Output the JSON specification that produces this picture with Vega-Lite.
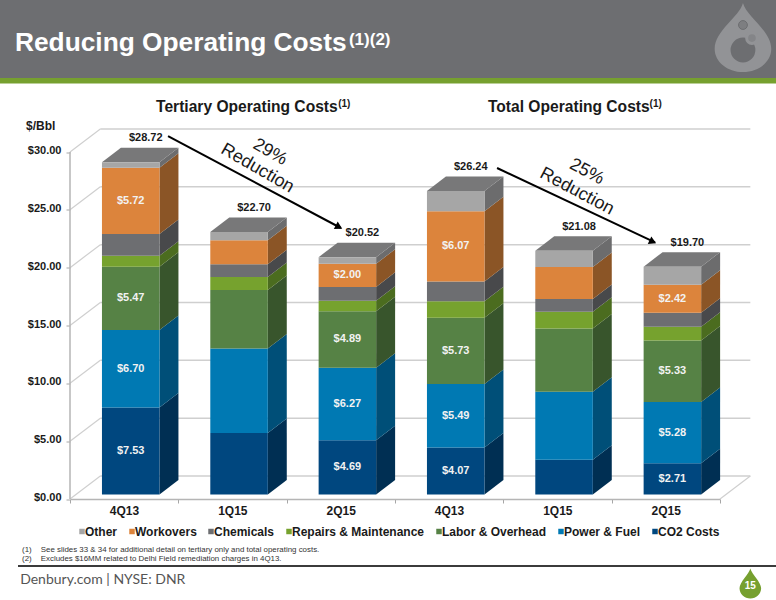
{
  "$schema": "https://vega.github.io/schema/vega-lite/v6.json",
  "width": 650,
  "height": 347,
  "autosize": {"type": "none"},
  "padding": {"left": 70, "top": 147.5, "right": 56, "bottom": 105.5},
  "background": "white",
  "config": {"view": {"stroke": null}},
  "datasets": {
    "costs": [
      {"chart": "Tertiary", "period": "4Q13", "component": "CO2 Costs", "value": 7.53, "labeled": true},
      {"chart": "Tertiary", "period": "4Q13", "component": "Power & Fuel", "value": 6.70, "labeled": true},
      {"chart": "Tertiary", "period": "4Q13", "component": "Labor & Overhead", "value": 5.47, "labeled": true},
      {"chart": "Tertiary", "period": "4Q13", "component": "Repairs & Maintenance", "value": 0.95},
      {"chart": "Tertiary", "period": "4Q13", "component": "Chemicals", "value": 1.87},
      {"chart": "Tertiary", "period": "4Q13", "component": "Workovers", "value": 5.72, "labeled": true},
      {"chart": "Tertiary", "period": "4Q13", "component": "Other", "value": 0.48},
      {"chart": "Tertiary", "period": "1Q15", "component": "CO2 Costs", "value": 5.31},
      {"chart": "Tertiary", "period": "1Q15", "component": "Power & Fuel", "value": 7.32},
      {"chart": "Tertiary", "period": "1Q15", "component": "Labor & Overhead", "value": 5.05},
      {"chart": "Tertiary", "period": "1Q15", "component": "Repairs & Maintenance", "value": 1.12},
      {"chart": "Tertiary", "period": "1Q15", "component": "Chemicals", "value": 1.10},
      {"chart": "Tertiary", "period": "1Q15", "component": "Workovers", "value": 2.08},
      {"chart": "Tertiary", "period": "1Q15", "component": "Other", "value": 0.72},
      {"chart": "Tertiary", "period": "2Q15", "component": "CO2 Costs", "value": 4.69, "labeled": true},
      {"chart": "Tertiary", "period": "2Q15", "component": "Power & Fuel", "value": 6.27, "labeled": true},
      {"chart": "Tertiary", "period": "2Q15", "component": "Labor & Overhead", "value": 4.89, "labeled": true},
      {"chart": "Tertiary", "period": "2Q15", "component": "Repairs & Maintenance", "value": 0.90},
      {"chart": "Tertiary", "period": "2Q15", "component": "Chemicals", "value": 1.20},
      {"chart": "Tertiary", "period": "2Q15", "component": "Workovers", "value": 2.00, "labeled": true},
      {"chart": "Tertiary", "period": "2Q15", "component": "Other", "value": 0.57},
      {"chart": "Total", "period": "4Q13", "component": "CO2 Costs", "value": 4.07, "labeled": true},
      {"chart": "Total", "period": "4Q13", "component": "Power & Fuel", "value": 5.49, "labeled": true},
      {"chart": "Total", "period": "4Q13", "component": "Labor & Overhead", "value": 5.73, "labeled": true},
      {"chart": "Total", "period": "4Q13", "component": "Repairs & Maintenance", "value": 1.42},
      {"chart": "Total", "period": "4Q13", "component": "Chemicals", "value": 1.71},
      {"chart": "Total", "period": "4Q13", "component": "Workovers", "value": 6.07, "labeled": true},
      {"chart": "Total", "period": "4Q13", "component": "Other", "value": 1.75},
      {"chart": "Total", "period": "1Q15", "component": "CO2 Costs", "value": 3.01},
      {"chart": "Total", "period": "1Q15", "component": "Power & Fuel", "value": 5.88},
      {"chart": "Total", "period": "1Q15", "component": "Labor & Overhead", "value": 5.47},
      {"chart": "Total", "period": "1Q15", "component": "Repairs & Maintenance", "value": 1.44},
      {"chart": "Total", "period": "1Q15", "component": "Chemicals", "value": 1.10},
      {"chart": "Total", "period": "1Q15", "component": "Workovers", "value": 2.77},
      {"chart": "Total", "period": "1Q15", "component": "Other", "value": 1.41},
      {"chart": "Total", "period": "2Q15", "component": "CO2 Costs", "value": 2.71, "labeled": true},
      {"chart": "Total", "period": "2Q15", "component": "Power & Fuel", "value": 5.28, "labeled": true},
      {"chart": "Total", "period": "2Q15", "component": "Labor & Overhead", "value": 5.33, "labeled": true},
      {"chart": "Total", "period": "2Q15", "component": "Repairs & Maintenance", "value": 1.19},
      {"chart": "Total", "period": "2Q15", "component": "Chemicals", "value": 1.21},
      {"chart": "Total", "period": "2Q15", "component": "Workovers", "value": 2.42, "labeled": true},
      {"chart": "Total", "period": "2Q15", "component": "Other", "value": 1.56}
    ],
    "totals": [
      {"chart": "Tertiary", "period": "4Q13", "total": 28.72},
      {"chart": "Tertiary", "period": "1Q15", "total": 22.70},
      {"chart": "Tertiary", "period": "2Q15", "total": 20.52},
      {"chart": "Total", "period": "4Q13", "total": 26.24},
      {"chart": "Total", "period": "1Q15", "total": 21.08},
      {"chart": "Total", "period": "2Q15", "total": 19.70}
    ],
    "ticks": [{"tick": 0}, {"tick": 5}, {"tick": 10}, {"tick": 15}, {"tick": 20}, {"tick": 25}, {"tick": 30}],
    "one": [{}]
  },
  "data": {"name": "costs"},
  "transform": [
    {"calculate": "indexof(['4Q13','1Q15','2Q15'],datum.period)+(datum.chart==='Total'?3:0)", "as": "slot"},
    {"calculate": "indexof(['CO2 Costs','Power & Fuel','Labor & Overhead','Repairs & Maintenance','Chemicals','Workovers','Other'],datum.component)", "as": "rank"},
    {"stack": "value", "groupby": ["slot"], "sort": [{"field": "rank", "order": "ascending"}], "as": ["low", "high"]},
    {"calculate": "datum.slot+0.295", "as": "left"},
    {"calculate": "datum.slot+0.826", "as": "right"},
    {"calculate": "datum.slot+0.5605", "as": "mid"},
    {"calculate": "(datum.low+datum.high)/2", "as": "center"}
  ],
  "resolve": {"scale": {"color": "independent"}, "axis": {"x": "independent", "y": "independent"}},
  "layer": [
    {
      "data": {"name": "ticks"},
      "transform": [{"calculate": "datum.tick+1.6", "as": "back"}],
      "mark": {"type": "rule", "color": "#cfcfcf", "strokeWidth": 1.5},
      "encoding": {
        "x": {
          "datum": 0.28,
          "type": "quantitative",
          "scale": {"domain": [0, 6], "nice": false, "zero": false},
          "axis": {
            "title": null,
            "values": [0, 1, 2, 3, 4, 5, 6],
            "offset": 4.5,
            "grid": false,
            "labelExpr": "['4Q13','1Q15','2Q15','4Q13','1Q15','2Q15',''][datum.value]",
            "labelOffset": 54,
            "labelFont": "Liberation Sans",
            "labelFontSize": 12,
            "labelFontWeight": "bold",
            "labelColor": "#1a1a1a",
            "labelPadding": 2,
            "labelOverlap": false,
            "labelFlush": false,
            "tickColor": "#a6a6a6",
            "tickSize": 4,
            "domainColor": "#b5b5b5",
            "domainWidth": 1.5
          }
        },
        "x2": {"datum": 6.28},
        "y": {
          "field": "back",
          "type": "quantitative",
          "scale": {"domain": [0, 30], "nice": false, "zero": false},
          "axis": {
            "title": null,
            "values": [0, 5, 10, 15, 20, 25, 30],
            "format": "$.2f",
            "domain": false,
            "grid": false,
            "tickOffset": 4.5,
            "labelOffset": -1.5,
            "labelFont": "Liberation Sans",
            "labelFontSize": 11,
            "labelFontWeight": "bold",
            "labelColor": "#1a1a1a",
            "labelPadding": 5,
            "labelOverlap": false,
            "labelFlush": false,
            "tickColor": "#a6a6a6",
            "tickSize": 4
          }
        }
      }
    },
    {
      "data": {"name": "ticks"},
      "transform": [
        {"calculate": "datum.tick-0.39", "as": "front"},
        {"calculate": "datum.tick+1.6", "as": "back"}
      ],
      "mark": {"type": "rule", "color": "#cfcfcf", "strokeWidth": 1.2},
      "encoding": {
        "x": {"datum": 0, "type": "quantitative", "axis": null},
        "x2": {"datum": 0.28},
        "y": {"field": "front", "type": "quantitative", "axis": null},
        "y2": {"field": "back"}
      }
    },
    {
      "data": {"name": "one"},
      "mark": {"type": "rule", "color": "#cfcfcf", "strokeWidth": 1.2},
      "encoding": {
        "x": {"datum": 6, "type": "quantitative", "axis": null},
        "x2": {"datum": 6.28},
        "y": {"datum": -0.39, "type": "quantitative", "axis": null},
        "y2": {"datum": 1.6}
      }
    },
    {
      "data": {"name": "one"},
      "mark": {"type": "rule", "color": "#b5b5b5", "strokeWidth": 1.5},
      "encoding": {
        "x": {"datum": 0, "type": "quantitative", "axis": null},
        "y": {"datum": -0.39, "type": "quantitative", "axis": null},
        "y2": {"datum": 29.61}
      }
    },
    {
      "transform": [
        {"calculate": "0", "as": "near"},
        {"calculate": "1", "as": "far"},
        {"fold": ["near", "far"], "as": ["edge", "t"]},
        {"calculate": "datum.right+datum.t*0.175", "as": "sx"},
        {"calculate": "datum.low+datum.t*1.254", "as": "slow"},
        {"calculate": "datum.high+datum.t*1.254", "as": "shigh"}
      ],
      "mark": {"type": "area", "interpolate": "linear"},
      "encoding": {
        "x": {"field": "sx", "type": "quantitative", "axis": null},
        "y": {"field": "slow", "type": "quantitative", "axis": null},
        "y2": {"field": "shigh"},
        "detail": [{"field": "slot"}, {"field": "component"}],
        "color": {
          "field": "component",
          "type": "nominal",
          "legend": null,
          "scale": {
            "domain": ["Other", "Workovers", "Chemicals", "Repairs & Maintenance", "Labor & Overhead", "Power & Fuel", "CO2 Costs"],
            "range": ["#6c6c6d", "#8b5526", "#48494b", "#4b6c1f", "#38552c", "#004f78", "#002f53"]
          }
        }
      }
    },
    {
      "data": {"name": "totals"},
      "transform": [
        {"calculate": "indexof(['4Q13','1Q15','2Q15'],datum.period)+(datum.chart==='Total'?3:0)", "as": "slot"},
        {"calculate": "0", "as": "a"},
        {"calculate": "1", "as": "b"},
        {"calculate": "2", "as": "c"},
        {"calculate": "3", "as": "d"},
        {"fold": ["a", "b", "c", "d"], "as": ["corner", "i"]},
        {"calculate": "datum.slot+0.295+[0,0.175,0.531,0.706][datum.i]", "as": "tx"},
        {"calculate": "datum.total+[0,0,0,1.254][datum.i]", "as": "tlow"},
        {"calculate": "datum.total+[0,1.254,1.254,1.254][datum.i]", "as": "thigh"}
      ],
      "mark": {"type": "area", "interpolate": "linear", "color": "#787879"},
      "encoding": {
        "x": {"field": "tx", "type": "quantitative", "axis": null},
        "y": {"field": "tlow", "type": "quantitative", "axis": null},
        "y2": {"field": "thigh"},
        "detail": {"field": "slot"}
      }
    },
    {
      "mark": {"type": "rect"},
      "encoding": {
        "x": {"field": "left", "type": "quantitative", "axis": null},
        "x2": {"field": "right"},
        "y": {"field": "low", "type": "quantitative", "axis": null},
        "y2": {"field": "high"},
        "color": {
          "field": "component",
          "type": "nominal",
          "scale": {
            "domain": ["Other", "Workovers", "Chemicals", "Repairs & Maintenance", "Labor & Overhead", "Power & Fuel", "CO2 Costs"],
            "range": ["#a6a6a6", "#dc843c", "#6d6e71", "#76a22e", "#568245", "#0079b3", "#00477f"]
          },
          "legend": {
            "title": null,
            "orient": "none",
            "legendX": 6,
            "legendY": 378,
            "direction": "horizontal",
            "columns": 7,
            "symbolType": "square",
            "symbolSize": 30,
            "columnPadding": 8,
            "labelOffset": -3,
            "labelFont": "Liberation Sans",
            "labelFontSize": 12,
            "labelFontWeight": "bold",
            "labelColor": "#1a1a1a",
            "labelLimit": 200
          }
        }
      }
    },
    {
      "transform": [{"filter": "datum.labeled === true"}],
      "mark": {"type": "text", "font": "Liberation Sans", "fontSize": 11, "fontWeight": "bold", "color": "#f2f2f2", "baseline": "middle"},
      "encoding": {
        "x": {"field": "mid", "type": "quantitative", "axis": null},
        "y": {"field": "center", "type": "quantitative", "axis": null},
        "text": {"field": "value", "format": "$.2f"}
      }
    },
    {
      "data": {"name": "totals"},
      "transform": [
        {"calculate": "indexof(['4Q13','1Q15','2Q15'],datum.period)+(datum.chart==='Total'?3:0)+0.5605", "as": "mid"}
      ],
      "mark": {"type": "text", "font": "Liberation Sans", "fontSize": 11, "fontWeight": "bold", "color": "#1a1a1a", "baseline": "middle", "dx": 15, "dy": -24},
      "encoding": {
        "x": {"field": "mid", "type": "quantitative", "axis": null},
        "y": {"field": "total", "type": "quantitative", "axis": null},
        "text": {"field": "total", "format": "$.2f"}
      }
    },
    {
      "data": {"name": "one"},
      "mark": {"type": "rule", "color": "black", "strokeWidth": 2},
      "encoding": {
        "x": {"datum": 0.905, "type": "quantitative", "axis": null},
        "x2": {"datum": 2.5},
        "y": {"datum": 30.99, "type": "quantitative", "axis": null},
        "y2": {"datum": 23.04}
      }
    },
    {
      "data": {"name": "one"},
      "mark": {"type": "point", "shape": "triangle-up", "filled": true, "color": "black", "opacity": 1, "size": 70, "angle": 117.6},
      "encoding": {
        "x": {"datum": 2.483, "type": "quantitative", "axis": null},
        "y": {"datum": 23.13, "type": "quantitative", "axis": null}
      }
    },
    {
      "data": {"name": "one"},
      "mark": {"type": "rule", "color": "black", "strokeWidth": 2},
      "encoding": {
        "x": {"datum": 3.942, "type": "quantitative", "axis": null},
        "x2": {"datum": 5.40},
        "y": {"datum": 28.23, "type": "quantitative", "axis": null},
        "y2": {"datum": 21.8}
      }
    },
    {
      "data": {"name": "one"},
      "mark": {"type": "point", "shape": "triangle-up", "filled": true, "color": "black", "opacity": 1, "size": 70, "angle": 115},
      "encoding": {
        "x": {"datum": 5.38, "type": "quantitative", "axis": null},
        "y": {"datum": 21.85, "type": "quantitative", "axis": null}
      }
    },
    {
      "data": {"name": "one"},
      "mark": {"type": "text", "text": "29%", "font": "Liberation Sans", "fontSize": 18, "color": "#1a1a1a", "angle": 30, "baseline": "middle"},
      "encoding": {
        "x": {"datum": 1.846, "type": "quantitative", "axis": null},
        "y": {"datum": 29.6, "type": "quantitative", "axis": null}
      }
    },
    {
      "data": {"name": "one"},
      "mark": {"type": "text", "text": "Reduction", "font": "Liberation Sans", "fontSize": 18, "color": "#1a1a1a", "angle": 30, "baseline": "middle"},
      "encoding": {
        "x": {"datum": 1.73, "type": "quantitative", "axis": null},
        "y": {"datum": 28.2, "type": "quantitative", "axis": null}
      }
    },
    {
      "data": {"name": "one"},
      "mark": {"type": "text", "text": "25%", "font": "Liberation Sans", "fontSize": 18, "color": "#1a1a1a", "angle": 28, "baseline": "middle"},
      "encoding": {
        "x": {"datum": 4.77, "type": "quantitative", "axis": null},
        "y": {"datum": 27.9, "type": "quantitative", "axis": null}
      }
    },
    {
      "data": {"name": "one"},
      "mark": {"type": "text", "text": "Reduction", "font": "Liberation Sans", "fontSize": 18, "color": "#1a1a1a", "angle": 28, "baseline": "middle"},
      "encoding": {
        "x": {"datum": 4.68, "type": "quantitative", "axis": null},
        "y": {"datum": 26.2, "type": "quantitative", "axis": null}
      }
    },
    {
      "data": {"name": "one"},
      "mark": {"type": "rect", "color": "#6d6e71"},
      "encoding": {
        "x": {"datum": -0.65, "type": "quantitative", "axis": null},
        "x2": {"datum": 6.52},
        "y": {"datum": 36.0, "type": "quantitative", "axis": null},
        "y2": {"datum": 42.8}
      }
    },
    {
      "data": {"name": "one"},
      "mark": {"type": "rect", "color": "#76a02f"},
      "encoding": {
        "x": {"datum": -0.65, "type": "quantitative", "axis": null},
        "x2": {"datum": 6.52},
        "y": {"datum": 35.53, "type": "quantitative", "axis": null},
        "y2": {"datum": 36.0}
      }
    },
    {
      "data": {"name": "one"},
      "mark": {"type": "text", "text": "Reducing Operating Costs", "font": "Liberation Sans", "fontSize": 26.3, "fontWeight": "bold", "color": "white", "align": "left", "baseline": "alphabetic"},
      "encoding": {
        "x": {"datum": -0.508, "type": "quantitative", "axis": null},
        "y": {"datum": 38.34, "type": "quantitative", "axis": null}
      }
    },
    {
      "data": {"name": "one"},
      "mark": {"type": "text", "text": "(1)(2)", "font": "Liberation Sans", "fontSize": 17, "fontWeight": "bold", "color": "white", "align": "left", "baseline": "alphabetic"},
      "encoding": {
        "x": {"datum": 2.575, "type": "quantitative", "axis": null},
        "y": {"datum": 38.86, "type": "quantitative", "axis": null}
      }
    },
    {
      "data": {"name": "one"},
      "mark": {"type": "point", "shape": "M0,-1C0.1,-0.6 0.82,-0.2 0.82,0.33A0.82,0.67 0 1 1 -0.82,0.33C-0.82,-0.2 -0.1,-0.6 0,-1Z", "filled": true, "color": "#929396", "opacity": 1, "size": 4761},
      "encoding": {
        "x": {"datum": 6.212, "type": "quantitative", "axis": null},
        "y": {"datum": 39.5, "type": "quantitative", "axis": null}
      }
    },
    {
      "data": {"name": "one"},
      "mark": {"type": "point", "shape": "circle", "filled": true, "color": "#6d6e71", "opacity": 1, "size": 616},
      "encoding": {
        "x": {"datum": 6.212, "type": "quantitative", "axis": null},
        "y": {"datum": 38.43, "type": "quantitative", "axis": null}
      }
    },
    {
      "data": {"name": "one"},
      "mark": {"type": "point", "shape": "circle", "filled": true, "fill": "#848588", "stroke": "#929396", "strokeWidth": 3, "opacity": 1, "size": 113},
      "encoding": {
        "x": {"datum": 6.295, "type": "quantitative", "axis": null},
        "y": {"datum": 39.46, "type": "quantitative", "axis": null}
      }
    },
    {
      "data": {"name": "one"},
      "mark": {"type": "point", "shape": "circle", "filled": true, "fill": "#7d7e81", "stroke": "#6d6e71", "strokeWidth": 1, "opacity": 1, "size": 78},
      "encoding": {
        "x": {"datum": 6.212, "type": "quantitative", "axis": null},
        "y": {"datum": 40.59, "type": "quantitative", "axis": null}
      }
    },
    {
      "data": {"name": "one"},
      "mark": {"type": "text", "text": "Tertiary Operating Costs", "font": "Liberation Sans", "fontSize": 15.6, "fontWeight": "bold", "color": "#1a1a1a", "align": "left", "baseline": "alphabetic"},
      "encoding": {
        "x": {"datum": 0.794, "type": "quantitative", "axis": null},
        "y": {"datum": 33.07, "type": "quantitative", "axis": null}
      }
    },
    {
      "data": {"name": "one"},
      "mark": {"type": "text", "text": "(1)", "font": "Liberation Sans", "fontSize": 10, "fontWeight": "bold", "color": "#1a1a1a", "align": "left", "baseline": "alphabetic"},
      "encoding": {
        "x": {"datum": 2.475, "type": "quantitative", "axis": null},
        "y": {"datum": 33.5, "type": "quantitative", "axis": null}
      }
    },
    {
      "data": {"name": "one"},
      "mark": {"type": "text", "text": "Total Operating Costs", "font": "Liberation Sans", "fontSize": 15.6, "fontWeight": "bold", "color": "#1a1a1a", "align": "left", "baseline": "alphabetic"},
      "encoding": {
        "x": {"datum": 3.858, "type": "quantitative", "axis": null},
        "y": {"datum": 33.07, "type": "quantitative", "axis": null}
      }
    },
    {
      "data": {"name": "one"},
      "mark": {"type": "text", "text": "(1)", "font": "Liberation Sans", "fontSize": 10, "fontWeight": "bold", "color": "#1a1a1a", "align": "left", "baseline": "alphabetic"},
      "encoding": {
        "x": {"datum": 5.35, "type": "quantitative", "axis": null},
        "y": {"datum": 33.5, "type": "quantitative", "axis": null}
      }
    },
    {
      "data": {"name": "one"},
      "mark": {"type": "text", "text": "$/Bbl", "font": "Liberation Sans", "fontSize": 12, "fontWeight": "bold", "color": "#1a1a1a", "align": "left", "baseline": "middle"},
      "encoding": {
        "x": {"datum": -0.406, "type": "quantitative", "axis": null},
        "y": {"datum": 31.86, "type": "quantitative", "axis": null}
      }
    },
    {
      "data": {"name": "one"},
      "mark": {"type": "text", "text": "(1)", "font": "Liberation Sans", "fontSize": 7.9, "color": "#333333", "align": "left", "baseline": "middle"},
      "encoding": {
        "x": {"datum": -0.443, "type": "quantitative", "axis": null},
        "y": {"datum": -4.81, "type": "quantitative", "axis": null}
      }
    },
    {
      "data": {"name": "one"},
      "mark": {"type": "text", "text": "See slides 33 & 34 for additional detail on tertiary only and total operating costs.", "font": "Liberation Sans", "fontSize": 7.9, "color": "#333333", "align": "left", "baseline": "middle"},
      "encoding": {
        "x": {"datum": -0.27, "type": "quantitative", "axis": null},
        "y": {"datum": -4.81, "type": "quantitative", "axis": null}
      }
    },
    {
      "data": {"name": "one"},
      "mark": {"type": "text", "text": "(2)", "font": "Liberation Sans", "fontSize": 7.9, "color": "#333333", "align": "left", "baseline": "middle"},
      "encoding": {
        "x": {"datum": -0.443, "type": "quantitative", "axis": null},
        "y": {"datum": -5.6, "type": "quantitative", "axis": null}
      }
    },
    {
      "data": {"name": "one"},
      "mark": {"type": "text", "text": "Excludes $16MM related to Delhi Field remediation charges in 4Q13.", "font": "Liberation Sans", "fontSize": 7.9, "color": "#333333", "align": "left", "baseline": "middle"},
      "encoding": {
        "x": {"datum": -0.27, "type": "quantitative", "axis": null},
        "y": {"datum": -5.6, "type": "quantitative", "axis": null}
      }
    },
    {
      "data": {"name": "one"},
      "mark": {"type": "rule", "color": "#3b3b3b", "strokeWidth": 2},
      "encoding": {
        "x": {"datum": -0.48, "type": "quantitative", "axis": null},
        "x2": {"datum": 6.52},
        "y": {"datum": -6.18, "type": "quantitative", "axis": null}
      }
    },
    {
      "data": {"name": "one"},
      "mark": {"type": "text", "text": "Denbury.com | NYSE: DNR", "font": "Lato", "fontSize": 14, "color": "#555555", "align": "left", "baseline": "middle"},
      "encoding": {
        "x": {"datum": -0.46, "type": "quantitative", "axis": null},
        "y": {"datum": -7.37, "type": "quantitative", "axis": null}
      }
    },
    {
      "data": {"name": "one"},
      "mark": {"type": "point", "shape": "M0,-1C0.1,-0.6 0.72,-0.1 0.72,0.32A0.72,0.68 0 1 1 -0.72,0.32C-0.72,-0.1 -0.1,-0.6 0,-1Z", "filled": true, "color": "#76a02f", "opacity": 1, "size": 900},
      "encoding": {
        "x": {"datum": 6.28, "type": "quantitative", "axis": null},
        "y": {"datum": -7.7, "type": "quantitative", "axis": null}
      }
    },
    {
      "data": {"name": "one"},
      "mark": {"type": "text", "text": "15", "font": "Liberation Sans", "fontSize": 10, "fontWeight": "bold", "color": "white", "baseline": "middle"},
      "encoding": {
        "x": {"datum": 6.28, "type": "quantitative", "axis": null},
        "y": {"datum": -7.9, "type": "quantitative", "axis": null}
      }
    }
  ]
}
